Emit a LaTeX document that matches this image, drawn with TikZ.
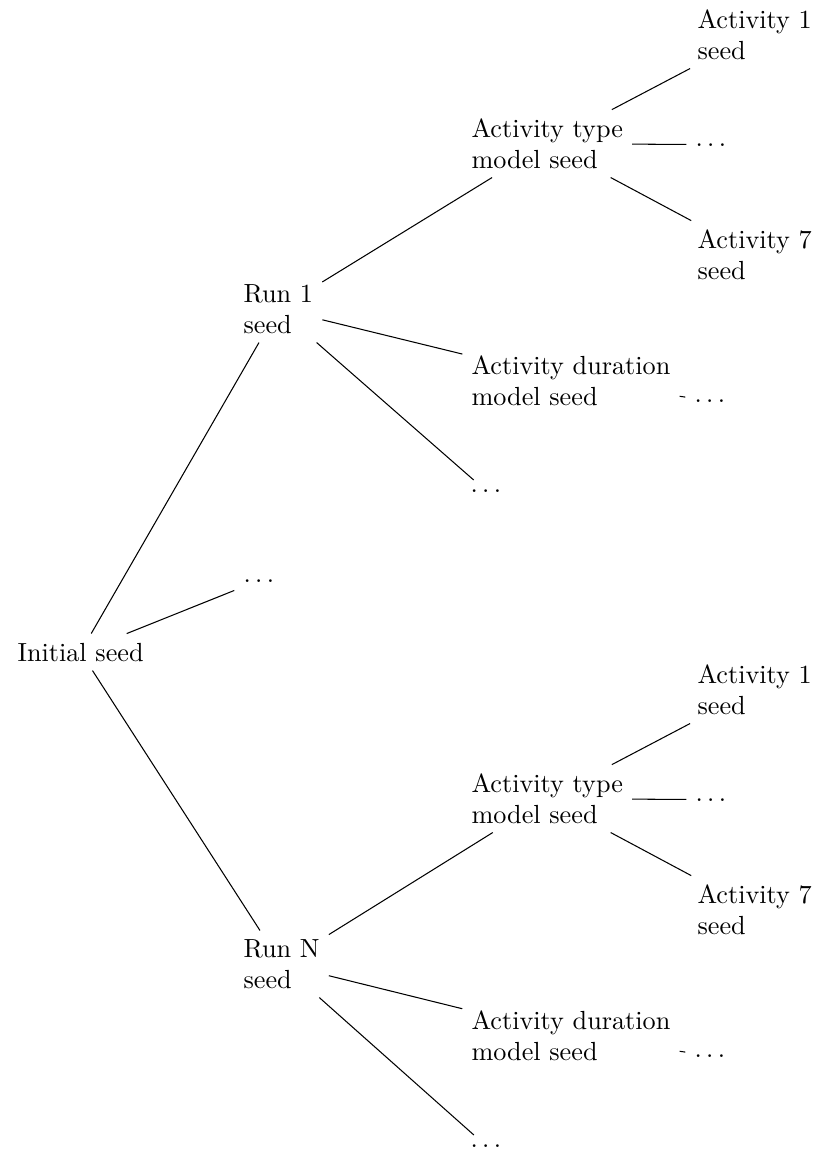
\documentclass[tikz,border=0pt]{standalone}
\begin{document}
\begin{tikzpicture}[x=0.38168pt, y=-0.38168pt,
  seednode/.style={anchor=base west, inner sep=3.33pt, align=left,
    font=\fontsize{10}{11.6}\selectfont},
  link/.style={draw, line width=0.4pt}]
\useasboundingbox (0,0) rectangle (816,1151);

% root of the seed hierarchy (base anchor = baseline of the last line)
\node[seednode] (init) at (8.3,661) {Initial seed};
\node[seednode] (mid) at (234.3,582) {$\ldots$};
\draw[link] (init) -- (mid);

% one branch per run: run seed -> model seeds -> activity seeds
\foreach \p/\dy/\run in {u/0/Run 1, l/655/Run N} {
  \node[seednode] (\p-run)   at (234.3,{333+\dy}) {\run\\seed};
  \node[seednode] (\p-type)  at (462.3,{168+\dy}) {Activity type\\model seed};
  \node[seednode] (\p-dur)   at (462.3,{405+\dy}) {Activity duration\\model seed};
  \node[seednode] (\p-rdots) at (461.3,{492+\dy}) {$\ldots$};
  \node[seednode] (\p-act1)  at (688.3,{59+\dy})  {Activity 1\\seed};
  \node[seednode] (\p-tdots) at (686.3,{146+\dy}) {$\ldots$};
  \node[seednode] (\p-act7)  at (688.3,{279+\dy}) {Activity 7\\seed};
  \node[seednode] (\p-ddots) at (685.3,{402+\dy}) {$\ldots$};

  \draw[link] (init) -- (\p-run);
  \draw[link] (\p-run) -- (\p-type);
  \draw[link] (\p-run) -- (\p-dur);
  \draw[link] (\p-run) -- (\p-rdots);
  \draw[link] (\p-type) -- (\p-act1);
  \draw[link] (\p-type) -- (\p-tdots);
  \draw[link] (\p-type) -- (\p-act7);
  \draw[link] (\p-dur) -- (\p-ddots);
}
\end{tikzpicture}
\end{document}
